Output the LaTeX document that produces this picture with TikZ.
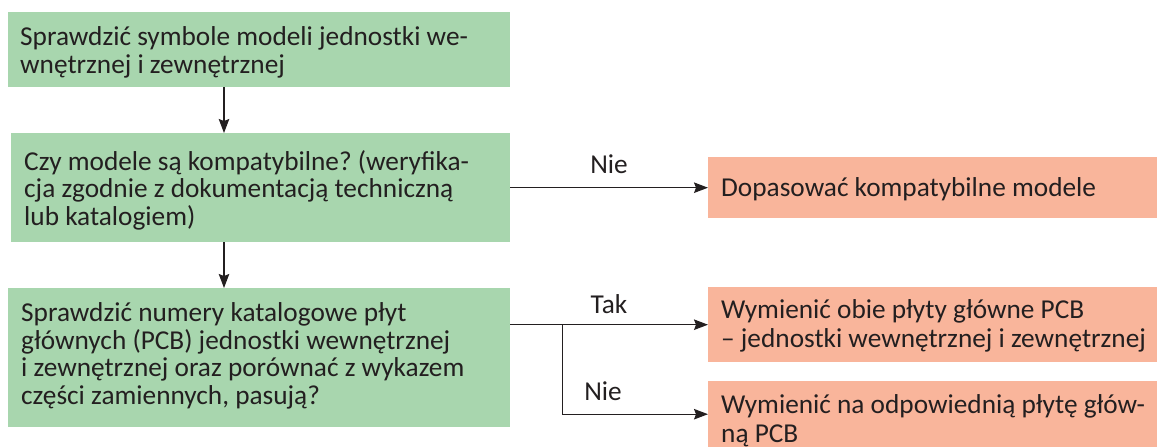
\documentclass[tikz,border=0pt]{standalone}
\usepackage{fontspec}
\setmainfont{Carlito}
\frenchspacing
\usetikzlibrary{arrows.meta,calc}
\definecolor{boxgreen}{RGB}{168,214,174}
\definecolor{boxsalmon}{RGB}{249,181,155}
\definecolor{ink}{RGB}{35,31,32}
\tikzset{
  greenbox/.style={draw=none, fill=boxgreen, inner sep=0pt, anchor=north west},
  salmonbox/.style={draw=none, fill=boxsalmon, inner sep=0pt, anchor=north west},
  % anchored at the baseline of the last line
  boxtext/.style={inner sep=0pt, anchor=base west, align=left, text=ink,
    font={\fontsize{27.3}{27.5}\selectfont}},
  outtext/.style={boxtext, font={\fontsize{27.3}{29}\selectfont}},
  edgelabel/.style={inner sep=0pt, anchor=base, text=ink,
    font={\fontsize{27.3}{27.5}\selectfont}},
  conn/.style={draw=ink, line width=1.2pt,
    -{Stealth[length=14pt, width=10.5pt, inset=2pt]}}
}
\begin{document}
\begin{tikzpicture}[x=1pt, y=-1pt]
\useasboundingbox (0,0) rectangle (1157,447);

% process steps (left column)
\node[greenbox, minimum width=502pt, minimum height=75pt] (g1) at (8,12) {};
\node[greenbox, minimum width=499pt, minimum height=109pt] (g2) at (11,133) {};
\node[greenbox, minimum width=502pt, minimum height=139pt] (g3) at (8,288) {};

% outcomes (right column)
\node[salmonbox, minimum width=449pt, minimum height=61pt] (o1) at (708,157) {};
\node[salmonbox, minimum width=449pt, minimum height=75pt] (o2) at (708,287) {};
\node[salmonbox, minimum width=449pt, minimum height=66pt] (o3) at (708,381) {};

% box texts
\node[boxtext] (g1t) at (20,73) {Sprawdzić symbole modeli jednostki we-\\wnętrznej i zewnętrznej};
\node[boxtext] (g2t) at (24,225) {Czy modele są kompatybilne? (weryfika-\\cja zgodnie z dokumentacją techniczną\\lub katalogiem)};
\node[boxtext] (g3t) at (21,404) {Sprawdzić numery katalogowe płyt\\głównych (PCB) jednostki wewnętrznej\\i zewnętrznej oraz porównać z wykazem\\części zamiennych, pasują?};
\node[outtext] (o1t) at (721,196) {Dopasować kompatybilne modele};
\node[outtext] (o2t) at (721,347) {Wymienić obie płyty główne PCB\\– jednostki wewnętrznej i zewnętrznej};
\node[outtext] (o3t) at (721,442) {Wymienić na odpowiednią płytę głów-\\ną PCB};

% connectors
\coordinate (col) at (224,0);
\draw[conn] (g1.south -| col) -- (g2.north -| col);
\draw[conn] (g2.south -| col) -- (g3.north -| col);
\draw[conn] (g2.east |- o1.west) -- (o1.west);
\draw[conn] (g3.east |- o2.west) -- (o2.west);
\coordinate (fork) at ($(g3.east |- o2.west)+(52,0)$);
\draw[conn] (fork) |- (o3.west);

% branch labels
\node[edgelabel] (lno1) at (609,173) {Nie};
\node[edgelabel] (lyes) at (609,313) {Tak};
\node[edgelabel] (lno2) at (603,400) {Nie};
\end{tikzpicture}
\end{document}
